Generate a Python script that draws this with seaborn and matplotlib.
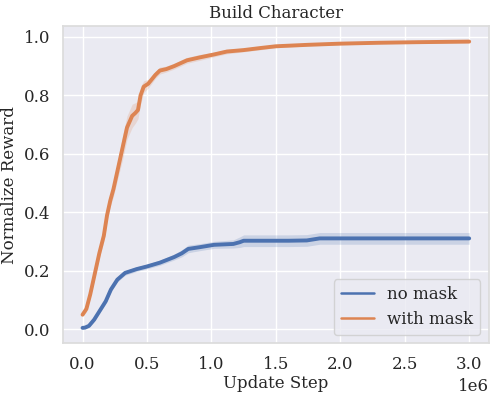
import numpy as np
import pandas as pd
import matplotlib
matplotlib.use("Agg")
import matplotlib.pyplot as plt
import seaborn as sns

# ── data (steps in millions) ─────────────────────────────────────────────────
steps_no_mask = [0.0, 0.02, 0.05, 0.09, 0.14, 0.18, 0.22, 0.27, 0.33, 0.42,
                 0.50, 0.60, 0.71, 0.77, 0.82, 0.91, 1.02, 1.17, 1.22, 1.25,
                 1.40, 1.60, 1.74, 1.84, 2.20, 2.60, 3.00]
reward_no_mask = [0.005, 0.006, 0.012, 0.033, 0.068, 0.096, 0.136, 0.170, 0.193, 0.206,
                  0.215, 0.228, 0.247, 0.260, 0.275, 0.281, 0.289, 0.292, 0.298, 0.303,
                  0.303, 0.303, 0.304, 0.311, 0.311, 0.311, 0.311]
sd_no_mask = [0.003, 0.004, 0.005, 0.006, 0.007, 0.008, 0.008, 0.008, 0.008, 0.008,
              0.008, 0.009, 0.010, 0.012, 0.013, 0.012, 0.012, 0.014, 0.018, 0.020,
              0.020, 0.020, 0.020, 0.020, 0.020, 0.020, 0.020]

steps_mask = [0.0, 0.03, 0.06, 0.10, 0.13, 0.165, 0.19, 0.215, 0.24, 0.27,
              0.29, 0.31, 0.345, 0.385, 0.41, 0.43, 0.45, 0.475, 0.51, 0.565,
              0.60, 0.65, 0.71, 0.76, 0.81, 0.91, 1.02, 1.12, 1.25, 1.38,
              1.50, 1.75, 2.00, 2.30, 2.60, 3.00]
reward_mask = [0.050, 0.070, 0.120, 0.200, 0.260, 0.320, 0.390, 0.440, 0.480, 0.540,
               0.580, 0.620, 0.690, 0.730, 0.740, 0.750, 0.800, 0.830, 0.840, 0.870,
               0.885, 0.890, 0.900, 0.910, 0.920, 0.930, 0.940, 0.950, 0.955, 0.962,
               0.968, 0.973, 0.977, 0.980, 0.982, 0.984]
sd_mask = [0.005, 0.010, 0.010, 0.015, 0.015, 0.020, 0.020, 0.020, 0.025, 0.030,
           0.035, 0.040, 0.040, 0.040, 0.035, 0.030, 0.030, 0.020, 0.015, 0.012,
           0.012, 0.010, 0.010, 0.010, 0.010, 0.010, 0.008, 0.008, 0.006, 0.006,
           0.005, 0.004, 0.004, 0.004, 0.004, 0.004]

labels = ["no mask", "with mask"]


def main():
    sns.set_theme(style="darkgrid", font="serif")
    plt.rcParams["axes.edgecolor"] = "#dcdcdc"

    runs = [(steps_no_mask, reward_no_mask, sd_no_mask),
            (steps_mask, reward_mask, sd_mask)]
    frames = []
    for lab, (s, r, sd) in zip(labels, runs):
        frames.append(pd.DataFrame({
            "step": np.array(s) * 1e6,
            "reward": r,
            "sd": sd,
            "run": lab,
        }))
    df = pd.concat(frames, ignore_index=True)

    fig, ax = plt.subplots(figsize=(4.9, 3.94), dpi=100)
    fig.subplots_adjust(left=0.129, right=0.997, top=0.934, bottom=0.129)

    palette = sns.color_palette("deep", 2)
    for lab, col in zip(labels, palette):
        d = df[df["run"] == lab]
        ax.fill_between(d["step"], d["reward"] - d["sd"], d["reward"] + d["sd"],
                        color=col, alpha=0.2, linewidth=0)
    sns.lineplot(data=df, x="step", y="reward", hue="run", palette=palette,
                 linewidth=2.8, ax=ax)

    ax.set_title("Build Character", fontsize=12)
    ax.set_xlabel("Update Step", fontsize=12, labelpad=1)
    ax.set_ylabel("Normalize Reward", fontsize=12)
    ax.tick_params(labelsize=12)
    ax.xaxis.get_offset_text().set_fontsize(12)

    leg = ax.legend(loc="lower right", fontsize=12)
    for h in leg.get_lines():
        h.set_linewidth(1.8)

    fig.savefig("out.png", dpi=100)
    plt.close(fig)


if __name__ == "__main__":
    main()
